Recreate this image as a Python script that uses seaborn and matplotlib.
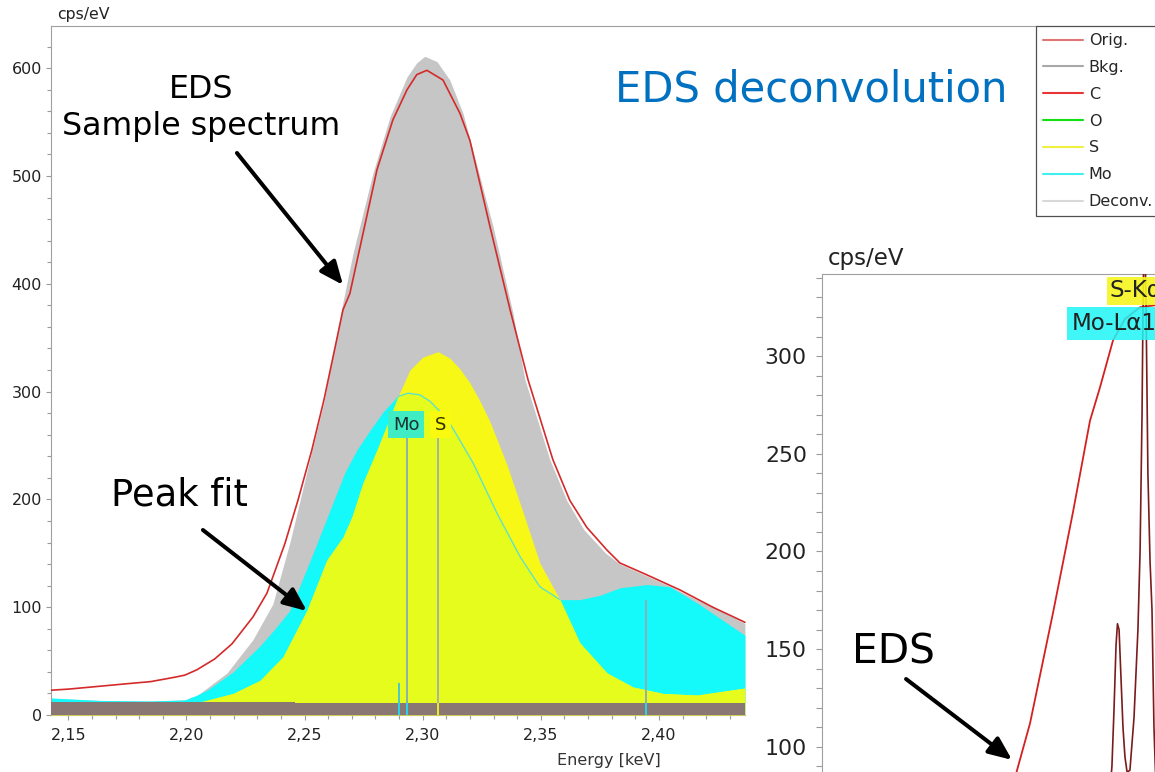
import matplotlib
matplotlib.use("Agg")
import matplotlib.pyplot as plt
from matplotlib.lines import Line2D
from matplotlib.patches import Rectangle
from matplotlib.ticker import MultipleLocator, FixedLocator, FuncFormatter
import seaborn as sns

W, H = 1155, 772

# ---------------- overview: deconvolution of the Mo-L / S-K region ----------------
orig_e = [2.1427, 2.150, 2.160, 2.1748, 2.185, 2.1950, 2.1994, 2.2045, 2.212, 2.2193,
          2.2282, 2.2341, 2.2417, 2.2472, 2.2530, 2.2582, 2.2663, 2.2692, 2.2735, 2.2807,
          2.2874, 2.2934, 2.2975, 2.3018, 2.3086, 2.3158, 2.3200, 2.3285, 2.3370, 2.3446,
          2.3551, 2.3623, 2.3695, 2.3780, 2.3835, 2.3949, 2.4089, 2.4228, 2.4364]
orig_cps = [23, 24, 26, 29, 31, 35, 37, 42, 52, 66,
            91, 113, 159, 199, 245, 292, 376, 391, 434, 506,
            552, 580, 594, 598, 589, 558, 533, 453, 376, 311,
            237, 199, 174, 153, 141, 130, 116, 100, 86]

fit_e = [2.1427, 2.1634, 2.1846, 2.1994, 2.2045, 2.2172, 2.2282, 2.2366, 2.2438, 2.2481,
         2.2530, 2.2582, 2.2658, 2.2705, 2.2790, 2.2862, 2.2934, 2.2975, 2.3009, 2.3061,
         2.3115, 2.3171, 2.3298, 2.3382, 2.3433, 2.3538, 2.3610, 2.3682, 2.3775, 2.3835,
         2.3949, 2.4050, 2.4160, 2.4228, 2.4364]
fit_cps = [15.5, 13.5, 13, 14, 18, 39, 70, 103, 160, 199,
           244, 290, 378, 428, 503, 555, 592, 605, 611, 606,
           589, 558, 453, 373, 311, 237, 199, 172, 150, 140,
           129, 119, 107, 100, 85]

mo_e = [2.1427, 2.1634, 2.1846, 2.1994, 2.2045, 2.2087, 2.2198, 2.2311, 2.2375, 2.2438,
        2.2536, 2.2624, 2.2671, 2.2722, 2.2777, 2.2832, 2.2891, 2.2938, 2.2988, 2.3031,
        2.3103, 2.3149, 2.3213, 2.3315, 2.3412, 2.3496, 2.3581, 2.3665, 2.3750, 2.3835,
        2.3949, 2.4047, 2.4161, 2.4270, 2.4364]
mo_cps = [15.8, 13.5, 13, 14, 18.5, 23, 40, 64, 80, 97,
          150, 199, 225, 246, 264, 281, 295, 298.5, 297, 291,
          275, 258, 234, 187, 147, 119, 107, 107, 111, 118,
          121, 119, 104, 88, 74]

s_e = [2.1427, 2.2057, 2.2198, 2.2311, 2.2409, 2.2510, 2.2595, 2.2663, 2.2701, 2.2747,
       2.2807, 2.2862, 2.2895, 2.2946, 2.3001, 2.3065, 2.3115, 2.3158, 2.3200, 2.3243,
       2.3285, 2.3357, 2.3425, 2.3496, 2.3581, 2.3665, 2.3780, 2.3890, 2.4017, 2.4161,
       2.4364]
s_cps = [12, 12, 20, 32, 54, 97, 144, 165, 184, 215,
         246, 276, 295, 320, 332, 337, 331, 321, 308, 291,
         272, 232, 188, 141, 107, 67, 39, 26, 20, 18.5,
         25]

bkg_e = [2.1427, 2.2460, 2.2460, 2.4364]
bkg_cps = [12, 12, 11, 11]

# characteristic lines (energy, marker height, element)
line_e = [2.2900, 2.2934, 2.3065, 2.3945]
line_h = [30, 258, 258, 107]
line_elem = ["Mo", "Mo", "S", "Mo"]
line_col = ["#3fc3dc", "#86a9b6", "#a9a9a9", "#8eaab4"]

energy_ticks = [2.15, 2.20, 2.25, 2.30, 2.35, 2.40]

legend_labels = ["Orig.", "Bkg.", "C", "O", "S", "Mo", "Deconv."]
legend_colors = ["#e07575", "#a8a8a8", "#e83535", "#10e010", "#f0f040", "#40f0f0", "#d8d8d8"]

# ---------------- detail view ----------------
eds_e = [2.2314, 2.2365, 2.2438, 2.2567, 2.2679, 2.2775, 2.2831, 2.2904, 2.2971, 2.3056,
         2.3140, 2.3224]
eds_cps = [70, 88, 112, 168.5, 220, 267, 284, 308, 319, 325, 326, 322]

hr_e = [2.2831, 2.2887, 2.2898, 2.2910, 2.2921, 2.2929, 2.2938, 2.2949, 2.2960, 2.2971,
        2.2983, 2.2999, 2.3022, 2.3044, 2.3056, 2.3067, 2.3072, 2.3078, 2.3083, 2.3089,
        2.3100, 2.3112, 2.3123, 2.3134, 2.3145, 2.3196]
hr_cps = [60, 78, 90, 120, 152, 163, 160, 135, 110, 95,
          87, 88, 115, 160, 200, 270, 320, 360, 360, 330,
          240, 195, 170, 110, 80, 60]

# colours
C_FIT = "#c6c6c6"
C_MO = "#14fafa"
C_S = "#f8f816"
C_BOTH = "#e6fc1c"
C_BKG = "#8a7673"
C_MO_LINE = "#5fe3c9"
C_ORIG = "#d42a2a"
C_SPINE = "#a0a0a0"
ELEM_COL = {"Mo": "#20d8f0", "S": "#f0f020"}

sns.set_theme(style="white")
plt.rcParams["font.family"] = ["DejaVu Sans"]

fig = plt.figure(figsize=(W / 100, H / 100), dpi=100)
fig.patch.set_facecolor("white")


def fbox(left, top, right, bottom):
    return [left / W, 1 - bottom / H, (right - left) / W, (bottom - top) / H]


def fx(px):
    return px / W


def fy(py):
    return 1 - py / H


# ---------------- overview axes ----------------
ax = fig.add_axes(fbox(51, 26, 1036, 715), zorder=1)
ax.set_facecolor("white")

ax.fill_between(fit_e, 0, fit_cps, color=C_FIT, lw=0, zorder=1)
mo_poly = ax.fill_between(mo_e, 0, mo_cps, color=C_MO, lw=0, zorder=2)
s_poly = ax.fill_between(s_e, 0, s_cps, color=C_S, lw=0, zorder=3)
both = ax.fill_between(s_e, 0, s_cps, color=C_BOTH, lw=0, zorder=4)
both.set_clip_path(mo_poly.get_paths()[0], ax.transData)

sns.lineplot(x=mo_e, y=mo_cps, ax=ax, color=C_MO_LINE, lw=1.0,
             estimator=None, sort=False, zorder=5)
mo_curve = ax.lines[-1]
mo_curve.set_clip_path(s_poly.get_paths()[0], ax.transData)

ax.fill_between(bkg_e, 0, bkg_cps, color=C_BKG, lw=0, zorder=6)

for e, h, el, c in zip(line_e, line_h, line_elem, line_col):
    ax.vlines(e, 0, h, color=c, lw=1.3, zorder=7)
    ax.vlines(e, 0, bkg_cps[-1], color=ELEM_COL[el], lw=1.3, zorder=7)

sns.lineplot(x=orig_e, y=orig_cps, ax=ax, color=C_ORIG, lw=1.2,
             estimator=None, sort=False, zorder=9)

ax.text(line_e[1] - 0.0004, line_h[1] + 3, "Mo", ha="center", va="bottom", fontsize=13,
        color="#183030", zorder=10,
        bbox=dict(boxstyle="square,pad=0.25", fc="#40ecc4", ec="none"))
ax.text(line_e[2] + 0.0010, line_h[2] + 3, "S", ha="center", va="bottom", fontsize=13,
        color="#303000", zorder=10,
        bbox=dict(boxstyle="square,pad=0.25", fc="#fafa10", ec="none"))

ax.set_xlim(2.1427, 2.5596)
ax.set_ylim(0, 639.1)
ax.xaxis.set_major_locator(FixedLocator(energy_ticks))
ax.xaxis.set_minor_locator(FixedLocator([round(2.15 + 0.01 * i, 2) for i in range(29)]))
ax.yaxis.set_major_locator(MultipleLocator(100))
ax.yaxis.set_minor_locator(MultipleLocator(20))
ax.xaxis.set_major_formatter(FuncFormatter(lambda v, p: f"{v:.2f}".replace(".", ",")))
ax.tick_params(which="both", direction="out", bottom=True, left=True, top=False, right=False,
               color="#9a9a9a", width=0.8, labelsize=11.5, labelcolor="#222222")
ax.tick_params(which="major", length=3.6)
ax.tick_params(which="minor", length=3.0)
ax.tick_params(axis="y", pad=3)
ax.tick_params(axis="x", pad=5.5)
ax.set_xlabel("")
ax.set_ylabel("")
for side in ["left", "top", "bottom"]:
    ax.spines[side].set_color(C_SPINE)
    ax.spines[side].set_linewidth(0.8)
ax.spines["right"].set_visible(False)

arrow_kw = dict(arrowstyle="-|>,head_length=0.7,head_width=0.3", lw=2.9, color="black",
                shrinkA=0, shrinkB=0, mutation_scale=20)
ax.annotate("", xy=(2.2663, 398.9), xytext=(2.2214, 521.3), arrowprops=arrow_kw, zorder=11)
ax.annotate("", xy=(2.2510, 96.5), xytext=(2.2070, 171.6), arrowprops=arrow_kw, zorder=11)

fig.text(fx(57), fy(15), "cps/eV", ha="left", va="center", fontsize=11.3, color="#222222")
fig.text(fx(609), fy(760), "Energy [keV]", ha="center", va="center", fontsize=11.5,
         color="#333333")
fig.text(fx(201.5), fy(98), "EDS", ha="center", va="baseline", fontsize=22.8, color="black")
fig.text(fx(201.5), fy(135), "Sample spectrum", ha="center", va="baseline", fontsize=22.8,
         color="black")
fig.text(fx(179), fy(505), "Peak fit", ha="center", va="baseline", fontsize=26.5, color="black")
fig.text(fx(811.5), fy(102), "EDS deconvolution", ha="center", va="baseline", fontsize=30,
         color="#0070c0")

handles = [Line2D([], [], color=c, lw=1.5) for c in legend_colors]
leg = fig.legend(handles, legend_labels, loc="upper left",
                 bbox_to_anchor=(fx(1036), fy(26)), bbox_transform=fig.transFigure,
                 frameon=True, fancybox=False, borderaxespad=0, fontsize=11.5,
                 handlelength=2.5, handletextpad=0.35, labelspacing=0.74, borderpad=0.45)
leg.get_frame().set_edgecolor("#505050")
leg.get_frame().set_linewidth(0.9)
leg.get_frame().set_alpha(1)

# white panel carrying the detail view
fig.add_artist(Rectangle((fx(745.5), 0), (W - 745.5) / W, (H - 236) / H,
                         transform=fig.transFigure, facecolor="white", edgecolor="none",
                         zorder=2))

# ---------------- detail axes ----------------
ax2 = fig.add_axes(fbox(822, 274, 1300, 790), zorder=3)
ax2.set_facecolor("white")
sns.lineplot(x=eds_e, y=eds_cps, ax=ax2, color="#d42020", lw=1.3,
             estimator=None, sort=False, zorder=3)
sns.lineplot(x=hr_e, y=hr_cps, ax=ax2, color="#7a1c1c", lw=1.2,
             estimator=None, sort=False, zorder=3)
ax2.set_xlim(2.1270, 2.3954)
ax2.set_ylim(77.9, 342.0)
ax2.set_xticks([])
ax2.set_xlabel("")
ax2.set_ylabel("")
ax2.yaxis.set_major_locator(MultipleLocator(50))
ax2.yaxis.set_minor_locator(MultipleLocator(10))
ax2.tick_params(which="both", direction="out", left=True, bottom=False, color="#9a9a9a",
                width=0.8, labelsize=15.8, labelcolor="#222222")
ax2.tick_params(which="major", length=4.3, pad=6.5)
ax2.tick_params(which="minor", length=4.3)
for side in ["left", "top"]:
    ax2.spines[side].set_color(C_SPINE)
    ax2.spines[side].set_linewidth(0.8)
ax2.spines["right"].set_visible(False)
ax2.spines["bottom"].set_visible(False)

ax2.text(2.2887, 333.3, "S-Kα", ha="left", va="center", fontsize=16.6, color="#222222",
         zorder=5, clip_on=False,
         bbox=dict(boxstyle="square,pad=0.12", fc="#f5f520", ec="none", alpha=0.9))
ax2.text(2.2674, 316.6, "Mo-Lα1", ha="left", va="center", fontsize=16.6, color="#222222",
         zorder=6, clip_on=False,
         bbox=dict(boxstyle="square,pad=0.22", fc="#20f5f5", ec="none", alpha=0.85))

ax2.annotate("", xy=(2.2337, 93.3), xytext=(2.1742, 134.7), arrowprops=arrow_kw, zorder=7)
fig.text(fx(893.5), fy(664), "EDS", ha="center", va="baseline", fontsize=29.3,
         color="black", zorder=4)
fig.text(fx(828), fy(258), "cps/eV", ha="left", va="center", fontsize=16.5,
         color="#222222", zorder=4)

fig.savefig("out.png", dpi=100)
